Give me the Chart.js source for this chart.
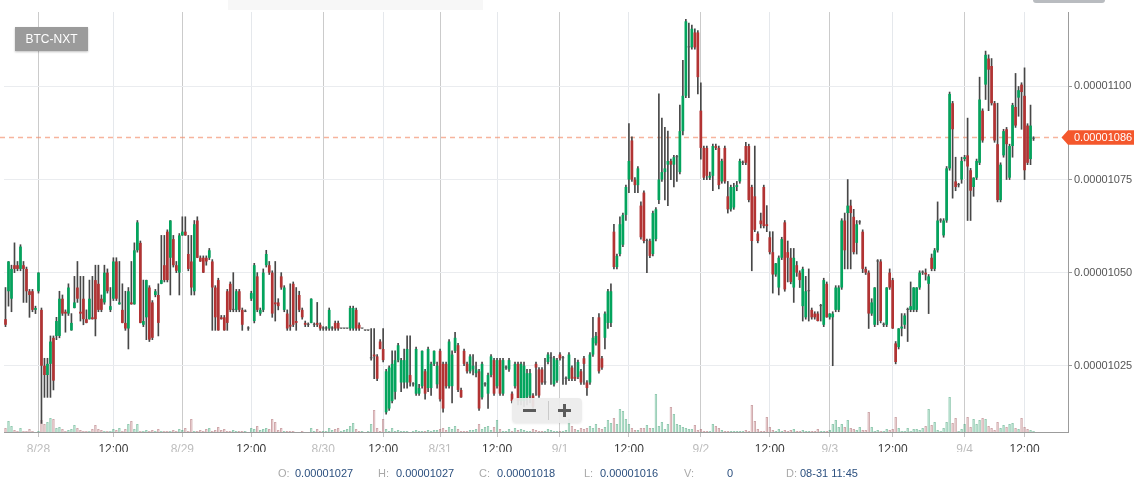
<!DOCTYPE html>
<html><head><meta charset="utf-8">
<script src="https://cdn.jsdelivr.net/npm/chart.js@4.4.1/dist/chart.umd.min.js"></script>
<style>
html,body{margin:0;padding:0;background:#fff;}
#wrap{position:relative;width:1134px;height:480px;overflow:hidden;font-family:"Liberation Sans",Arial,Helvetica,sans-serif;background:#fff;}
canvas{position:absolute;left:0;top:0;}
.btn{position:absolute;left:15px;top:27px;width:73px;height:24px;background:#9b9b9b;color:#fff;font-size:12px;line-height:24px;text-align:center;box-shadow:0 1px 2px rgba(0,0,0,.25);}
.zoom{position:absolute;left:512px;top:398px;width:70px;height:25px;background:rgba(236,236,236,.93);border-radius:4px;box-shadow:0 1px 2px rgba(0,0,0,.08);}
.zb{position:absolute;background:#5b5b5b;}
.sep{position:absolute;left:36px;top:3px;width:1px;height:19px;background:#cacaca;}
.info span{position:absolute;top:467px;font-size:11px;line-height:13px;white-space:nowrap;}
.k{color:#a9a9a9}.v{color:#2b4f7e}
.tab{position:absolute;left:1033px;top:-3px;width:72px;height:6px;background:#b9bcc0;border-radius:3px;}
.topbar{position:absolute;left:228px;top:0;width:255px;height:10px;background:#f7f7f7;}
</style></head>
<body>
<div id="wrap">
<canvas id="c" width="1134" height="480"></canvas>
<div class="topbar"></div>
<div class="tab"></div>
<div class="btn">BTC-NXT</div>
<div class="zoom">
  <div class="zb" style="left:11px;top:11px;width:13px;height:3px"></div>
  <div class="sep"></div>
  <div class="zb" style="left:46px;top:11px;width:13px;height:3px"></div>
  <div class="zb" style="left:51px;top:6px;width:3px;height:13px"></div>
</div>
<div class="info" id="info"></div>
</div>
<script>
// ---------- data (prices in units of 1e-8 BTC) ----------
const UNIT = 1e-8;
const SLOTS = 355;
const tickIdx  = [11,36,59,82,106,126,145,164,185,208,232,255,275,296,320,340];
const tickText = ['8/28','12:00','8/29','12:00','8/30','12:00','8/31','12:00','9/1','12:00','9/2','12:00','9/3','12:00','9/4','12:00'];
const dayIdx   = [11,59,106,145,185,232,275,320];
const yTicks   = [1025,1050,1075,1100];
const lastPrice = 1086.3;
const infoKeys = ['O:','H:','C:','L:','V:','D:'];
const infoVals = ['0.00001027','0.00001027','0.00001018','0.00001016','0','08-31 11:45'];

const open = [
1037.5,1045,1043,1052,1052,1051,1052,1051,1045,1045,
1040,1045,1040,1025,1022.5,1025.5,1032.5,1033,1033,1043,
1039.5,1039,1034.5,1040.5,1046,1039.5,1043,1037.5,1037.5,1038,
1048,1047,1043,1042,1050,1040,1043,1053,1041.5,1040,
1036.5,1035,1042,1041.5,1056,1058,1036,1038,1046,1042,
1044,1044,1047,1052,1061,1054,1059,1052,1050,1060,
1061,1055,1053,1045,1064,1054,1054,1054,1054,1053,
1046,1048,1038,1038,1045,1047,1040,1040,1045,1040,
1039.5,1035,1043,1037,1049,1039,1040,1052,1052,1050,
1042,1042,1049,1040,1039,1036,1047,1037,1044,1040,
1036.5,1036,1036.5,1036,1036.5,1036,1035,1035,1035,1035,
1036.5,1036.5,1035,1035,1035,1035,1035,1040,1036,1035,
1034.5,1034.5,1027,1028,1027.5,1031.5,1029.5,1012.5,1013.5,1015.5,
1018,1026.5,1020.5,1020.5,1020.5,1022.5,1020,1017.5,1017.5,1019.5,
1023.5,1019,1019,1025.5,1020,1029,1025.5,1025.5,1019.5,1019.5,
1029,1030.5,1018.5,1029,1025.5,1023.5,1024,1023,1023.5,1016.5,
1020,1017.5,1022.5,1026.5,1019.5,1026.5,1017.5,1024.5,1024,1017.5,
1019.5,1025.5,1015.5,1015.5,1016.5,1017,1017,1025.5,1024,1024,
1020.5,1026,1027,1020,1021,1028,1027,1021.5,1021.5,1024.5,
1022,1022,1023.5,1027,1020.5,1020.5,1028,1031,1038,1027,
1032.5,1036.5,1036.5,1061,1051.5,1055,1057.5,1065.5,1075,1085.5,
1075,1073.5,1068,1071.5,1058.5,1058.5,1055,1059,1069.5,1075,
1077,1079,1080,1079,1081,1077,1088,1097.5,1110.5,1110.5,
1114.5,1114.5,1093.5,1083.5,1083.5,1075.5,1076,1084,1083.5,1074.5,
1083.5,1070.5,1067,1067.5,1073,1074.5,1079.5,1084,1084,1073,
1070.5,1060.5,1064,1073,1063,1059.5,1055.5,1049.5,1046,1054,
1063.5,1055.5,1054,1046,1052,1050,1041,1038,1045,1040,
1039,1039,1041,1036,1047,1038,1038,1040,1040,1046,
1064,1066,1068,1065,1058,1063.5,1061,1051,1050,1039,
1036,1053,1053,1036,1036,1050,1048,1031,1030,1035,
1036,1040,1040,1040,1040,1046,1050,1050,1047,1054,
1051,1056,1064,1060,1064,1078,1095.5,1074.5,1073.5,1075,
1080.5,1081.5,1077.5,1073,1075.5,1079.5,1093.5,1100.5,1107.5,1105.5,
1095.5,1084.5,1069.5,1081.5,1088.5,1075.5,1084,1094.5,1097,1100.5,
1097.5,1089.5,1080.5,1086];

const high = [
1046,1053,1052,1058,1053,1057.5,1053,1051.5,1045.5,1045.5,
1041,1050,1040.5,1027,1027,1033,1033,1038,1045,1044,
1040,1047,1039,1049,1053,1049,1049,1040,1048,1049,
1052,1052,1044,1052,1051,1046,1054,1054,1053,1047,
1045,1046,1053,1058,1064,1058.5,1048,1048,1046.5,1042.5,
1045.5,1047,1060,1060,1061.5,1064,1060,1053,1060.5,1065,
1065,1060,1060,1064,1065,1054.5,1054.5,1054.5,1056.5,1053.5,
1046.5,1048.5,1038.5,1038.5,1045.5,1047.5,1050,1045.5,1045.5,1040.5,
1040,1035.5,1045,1052.5,1050,1040.5,1051,1056,1053,1050.5,
1053,1043,1050,1046.5,1040,1047,1047.5,1046,1045,1040.5,
1037,1036.5,1043,1036.5,1042,1036.5,1035.5,1035.5,1040.5,1035.5,
1037,1037,1035,1035,1035,1041,1041,1040.5,1036.5,1035,
1034.5,1034.5,1035,1035,1028,1032,1035,1024,1025,1029,
1029,1031,1027,1029.5,1033,1033,1020.5,1030,1020,1029,
1024,1030,1026,1029,1026,1029.5,1026,1026,1032,1029,
1034,1031,1019,1029.5,1026,1028,1028,1026,1024,1026,
1020.5,1023,1028,1027,1027,1027,1027,1025,1027,1018,
1026,1026,1026,1026,1024,1024,1017.5,1026,1024.5,1024.5,
1027,1028.5,1028.5,1027.5,1027,1028.5,1027.5,1022,1028.5,1025,
1027,1026.5,1024,1027.5,1021,1028.5,1038,1034,1039,1027.5,
1039.5,1045.5,1047,1063,1055,1065,1066,1073.5,1090,1086.5,
1075.5,1078.5,1069,1072,1059,1059,1066.5,1067.5,1098,1091.5,
1089,1088,1080.5,1081.5,1081.5,1095,1107,1118,1117,1116.5,
1115.5,1115,1101,1084,1084,1077,1084.5,1084.5,1084,1080.5,
1084,1074.5,1073.5,1074,1074.5,1080.5,1080,1085,1084.5,1073.5,
1084,1061,1066,1073.5,1068,1061,1061,1052.5,1054.5,1059.5,
1064,1058.5,1056.5,1056.5,1053,1050.5,1051.5,1049,1051,1040.5,
1039.5,1039.5,1041.5,1048.5,1047.5,1039,1039.5,1046.5,1046.5,1064.5,
1066,1075,1069.5,1067,1064,1064,1061.5,1051.5,1050.5,1043,
1046,1053.5,1053.5,1036.5,1046,1051,1048.5,1031.5,1035,1039,
1039,1040.5,1047.5,1046,1046,1050.5,1050.5,1051,1049.5,1055,
1056.5,1069,1064.5,1064.5,1078.5,1098.5,1096,1081,1074,1081,
1081.5,1091.5,1078,1075.5,1080.5,1102.5,1094,1109.5,1108.5,1107.5,
1096,1095.5,1079.5,1088.5,1089,1084.5,1095.5,1103.5,1100,1101,
1105,1090,1095,1086.5];

const low = [
1035.5,1041,1039.5,1050,1050.5,1050.5,1042,1042,1038,1039.5,
1039,1044.5,1009.5,1016.5,1016.5,1016.5,1018.5,1032,1032.5,1038.5,
1034,1038.5,1034.5,1040.5,1042,1037,1036,1036.5,1037.5,1037.5,
1033,1039.5,1039.5,1041.5,1044.5,1039.5,1042.5,1042.5,1041.5,1036.5,
1034.5,1029.5,1041.5,1041.5,1055.5,1036.5,1035.5,1032,1031.5,1032,
1043.5,1033,1047,1047.5,1047.5,1044,1051.5,1050,1044,1060,
1060,1050.5,1044,1044,1054,1053,1050,1052,1053.5,1034.5,
1034.5,1034.5,1037.5,1034.5,1034.5,1039.5,1039.5,1039.5,1039.5,1034.5,
1039.5,1034.5,1042.5,1036.5,1039.5,1038.5,1039.5,1051.5,1049.5,1038,
1037,1040,1045.5,1039.5,1034.5,1034.5,1035.5,1034.5,1039.5,1037.5,
1035.5,1035.5,1036.5,1035.5,1035.5,1034.5,1034.5,1034.5,1034.5,1034.5,
1034.5,1034.5,1035,1035,1035,1034.5,1034.5,1034.5,1034.5,1035,
1034.5,1034.5,1026.5,1021.5,1021,1029.5,1026,1012,1013,1015,
1016,1026,1018,1019,1019,1019.5,1019.5,1017,1017,1019,
1016,1018,1017,1025,1019,1015.5,1012.5,1019,1019,1015,
1028.5,1018,1016.5,1025,1023,1023,1022.5,1022,1013,1016,
1019.5,1013.5,1022,1017,1019,1017,1017,1024,1023.5,1015,
1019,1014.5,1014.5,1014,1014.5,1015,1013.5,1017,1016.5,1020,
1020,1025.5,1020,1019.5,1020.5,1026.5,1020,1020,1021,1021,
1021,1021.5,1020,1020,1017,1020,1027.5,1030.5,1023,1024,
1029.5,1035,1035.5,1051,1051,1054.5,1057,1064,1071.5,1074.5,
1071.5,1071.5,1059,1058,1050,1054,1054.5,1058.5,1068.5,1074.5,
1069.5,1068,1075,1073,1074.5,1076.5,1087,1097,1097,1110,
1110,1098,1080.5,1075,1075,1075,1072,1083,1072.5,1074,
1074,1066,1066.5,1067,1072,1074,1079,1079,1069,1050.5,
1061,1058,1062,1062,1061,1055,1044.5,1049,1044,1053.5,
1045,1047.5,1047,1042,1049,1046,1037,1037.5,1037,1037.5,
1037.5,1037,1037,1035.5,1038,1037.5,1025,1039.5,1039.5,1045.5,
1051,1051,1051,1055,1055,1063,1050,1049.5,1035,1038.5,
1035.5,1036,1036.5,1035.5,1035.5,1045.5,1035,1025.5,1029.5,1033,
1035,1031.5,1039.5,1039.5,1039.5,1045.5,1049.5,1048,1039,1050.5,
1050.5,1055.5,1063.5,1059.5,1063.5,1077.5,1070,1072,1073,1074,
1080,1064,1064,1070.5,1075,1079,1085,1096.5,1093.5,1095,
1085,1069,1069,1081,1075,1075,1081,1089,1092,1088.5,
1075,1079,1079,1085.5];

const close = [
1036,1053,1051,1051,1051,1057,1051,1045,1044,1040,
1040.5,1050,1025,1022.5,1025.5,1031.5,1021,1037,1043,1039,
1039,1046,1036.5,1042,1043,1039,1037.5,1036.5,1043,1037.5,
1037.5,1040,1040,1050,1045,1041,1053,1043,1042,1036.5,
1035,1045,1041.5,1056,1063.5,1036.5,1037,1048,1032,1032.5,
1045,1036.5,1048,1048,1048,1064,1052,1050.5,1060,1061,
1060,1051,1046,1063,1054,1053,1050,1053,1056,1046,
1038,1034.5,1037.5,1034.5,1036.5,1040,1040,1045,1040,1036,
1039.5,1035,1044.5,1052,1040,1040,1050,1055,1050,1039,
1041.5,1041,1046,1046,1035,1035.5,1036,1036.5,1040,1038,
1036,1036,1043,1036,1036,1035,1035,1035,1040,1035,
1035,1035,1035,1035,1035,1040.5,1040.5,1035,1035,1035,
1034.5,1034.5,1027,1027.5,1021.5,1029.5,1026.5,1023.5,1024.5,1025.5,
1026.5,1030.5,1026.5,1026.5,1029.5,1020.5,1020,1029.5,1019,1029,
1017.5,1029.5,1025.5,1029,1025,1016,1013.5,1019.5,1031.5,1028,
1032.5,1018.5,1016.5,1025.5,1023.5,1027.5,1025,1024,1013.5,1025.5,
1020,1022.5,1027.5,1017.5,1026.5,1017.5,1026.5,1024.5,1026.5,1015.5,
1025.5,1015.5,1025.5,1025,1023,1023,1014,1024.5,1017,1020.5,
1020.5,1028,1027,1027,1026.5,1027,1027,1021.5,1028,1021.5,
1021.5,1026,1020.5,1025.5,1019,1028,1032.5,1033,1023.5,1024.5,
1039,1045,1045,1051.5,1054.5,1063,1065.5,1073,1080,1075,
1073.5,1078,1059.5,1058.5,1058.5,1054.5,1066,1067,1075,1077,
1078,1080,1079,1081,1081,1088,1097.5,1117.5,1110.5,1115.5,
1110.5,1102.5,1083.5,1075.5,1076,1076,1084,1083.5,1073.5,1080,
1074.5,1067,1073,1073,1073.5,1080,1079.5,1079.5,1069.5,1058.5,
1061.5,1058.5,1063,1062.5,1062.5,1055.5,1049.5,1052.5,1054,1059,
1045.5,1054,1047.5,1054,1050,1048,1051,1045,1045,1038,
1038,1037,1041,1048,1038,1039,1039,1046,1046,1064,
1056,1068,1066,1055.5,1063,1063.5,1051,1050,1039,1042,
1046,1053,1037,1036,1046,1046,1035,1026,1035,1035.5,
1038.5,1040,1041,1046,1046,1050,1050,1049.5,1049,1051,
1056,1064,1064,1064,1078,1098,1088.5,1073,1073.5,1080,
1081,1078.5,1072,1075.5,1080,1096.5,1085.5,1108.5,1104.5,1095.5,
1085.5,1069.5,1079,1088,1084.5,1084,1095,1089.5,1099,1098.5,
1077.5,1079.5,1089.5,1086];

const volume = [
4,11,6,2,1,4,1,1,3,1,
0,1,12,8,10,14,13,4,5,3,
1,2,3,7,4,2,1,1,1,3,
7,3,2,1,1,1,3,2,4,1,
3,8,11,3,8,1,1,2,1,2,
1,3,1,1,1,1,2,1,3,2,
4,1,13,1,1,2,1,3,4,1,
2,5,2,3,1,1,2,1,1,1,
1,0,4,3,6,2,3,4,3,13,
10,2,4,1,1,1,1,0,0,1,
0,0,4,1,3,1,1,1,4,2,
3,4,1,2,3,6,9,3,1,1,
0,1,8,22,4,1,13,3,1,4,
1,2,1,1,1,0,1,2,1,1,
1,2,1,2,2,3,4,2,5,3,
6,3,1,1,1,2,2,3,8,3,
5,6,2,5,12,3,1,1,3,1,
4,2,3,2,1,1,3,2,1,1,
1,3,2,1,1,1,1,2,13,6,
3,2,4,3,4,6,4,8,4,3,
5,12,9,14,8,23,21,13,8,4,
2,2,4,4,7,4,4,38,6,10,
3,8,25,18,8,7,5,4,3,3,
7,2,3,1,1,1,8,6,4,2,
1,1,1,1,1,1,1,2,1,27,
11,3,1,1,15,5,2,1,3,1,
2,1,2,3,1,1,2,1,1,1,
1,3,1,1,1,2,8,12,5,8,
5,12,4,3,2,5,2,2,20,5,
1,2,1,1,3,2,3,15,4,1,
1,4,1,3,3,2,4,6,23,7,
10,2,1,4,10,35,9,14,1,3,
8,15,5,13,8,12,14,13,6,4,
2,10,4,7,5,8,9,4,3,14,
5,3,2,1];

// ---------- info row ----------
(function(){
  const keyX = [278,378,479,584,684,786], valX = [295,396,497,600,727,800];
  const box = document.getElementById('info');
  infoKeys.forEach((k,i)=>{
    const a=document.createElement('span'); a.className='k'; a.style.left=keyX[i]+'px'; a.textContent=k; box.appendChild(a);
    const b=document.createElement('span'); b.className='v'; b.style.left=valX[i]+'px'; b.textContent=infoVals[i]; box.appendChild(b);
  });
})();

// ---------- chart ----------
const FONT = '"Liberation Sans", Arial, Helvetica, sans-serif';
const GREEN = '#03a45d', RED = '#b23333', DOJI = '#555555', WICK = '#474747';
const dir = open.map((o,i)=>Math.sign(close[i]-o));
const labels = Array.from({length:SLOTS},(_,i)=>{const k=tickIdx.indexOf(i);return k<0?'':tickText[k];});
const bodies = open.map((o,i)=>[o*UNIT, close[i]*UNIT]);
const wicks  = open.map((o,i)=>[low[i]*UNIT, high[i]*UNIT]);
const bodyCol = dir.map(d=>d>0?GREEN:d<0?RED:DOJI);
const volFill = dir.map(d=>d<0?'rgba(205,90,100,0.24)':'rgba(20,175,105,0.24)');
const volLine = dir.map(d=>d<0?'rgba(165,95,100,0.55)':'rgba(40,150,100,0.50)');

const pricePlugin = {
  id:'price',
  beforeDatasetsDraw(chart){
    const {ctx, chartArea:a, scales:{y}} = chart;
    const py = Math.round(y.getPixelForValue(lastPrice*UNIT))+0.5;
    ctx.save();
    ctx.strokeStyle='rgba(242,140,105,0.65)'; ctx.lineWidth=1.6; ctx.setLineDash([5,4]);
    ctx.beginPath(); ctx.moveTo(0,py); ctx.lineTo(a.right,py); ctx.stroke();
    ctx.restore();
  },
  afterDraw(chart){
    const {ctx, chartArea:a, scales:{y}} = chart;
    const py = y.getPixelForValue(lastPrice*UNIT);
    ctx.save();
    ctx.fillStyle='#f4572c';
    ctx.beginPath();
    ctx.moveTo(a.right-6.5,py); ctx.lineTo(a.right,py-7.3); ctx.lineTo(chart.width,py-7.3);
    ctx.lineTo(chart.width,py+7.3); ctx.lineTo(a.right,py+7.3); ctx.closePath(); ctx.fill();
    ctx.fillStyle='#fff'; ctx.font='11px '+FONT; ctx.textBaseline='middle'; ctx.textAlign='left';
    ctx.fillText((lastPrice*UNIT).toFixed(8), a.right+6, py+0.5);
    ctx.restore();
  }
};

new Chart(document.getElementById('c'), {
  type:'bar',
  data:{
    labels,
    datasets:[
      {label:'body', data:bodies, backgroundColor:bodyCol, grouped:false, barPercentage:0.9, categoryPercentage:1, minBarLength:1, order:0, yAxisID:'y'},
      {label:'wick', data:wicks, backgroundColor:WICK, grouped:false, barThickness:1, order:1, yAxisID:'y'},
      {label:'volume', data:volume, backgroundColor:volFill, borderColor:volLine, borderWidth:1, grouped:false, barPercentage:0.85, categoryPercentage:1, order:2, yAxisID:'v'}
    ]
  },
  options:{
    responsive:false, animation:false, events:[],
    layout:{padding:{left:4, top:12, right:0, bottom:28}},
    plugins:{legend:{display:false}, tooltip:{enabled:false}},
    scales:{
      x:{
        type:'category', offset:true,
        grid:{offset:false, lineWidth:1, tickLength:5,
          color:(c)=>dayIdx.includes(c.index)?'#cbcbcb':(tickIdx.includes(c.index)?'#e5e8ec':'rgba(0,0,0,0)'),
          tickColor:(c)=>tickIdx.includes(c.index)?'#c4c4c4':'rgba(0,0,0,0)'},
        border:{color:'#9c9c9c'},
        ticks:{autoSkip:false, maxRotation:0, minRotation:0, padding:5,
          color:(c)=>dayIdx.includes(c.index)?'#bdbdbd':'#3a3a3a',
          font:{size:12, family:FONT}},
        afterFit:(s)=>{s.height=20;}
      },
      y:{
        position:'right', min:1007.2*UNIT, max:1120*UNIT,
        afterBuildTicks:(s)=>{s.ticks=yTicks.map(v=>({value:v*UNIT}));},
        ticks:{callback:(v)=>Number(v).toFixed(8), color:'#555', padding:2, font:{size:11, family:FONT}},
        grid:{color:'#eaecef', tickColor:'#9c9c9c', tickLength:4},
        border:{color:'#9c9c9c'},
        afterFit:(s)=>{s.width=66;}
      },
      v:{display:false, min:0, max:420}
    }
  },
  plugins:[pricePlugin]
});
</script>
</body></html>
